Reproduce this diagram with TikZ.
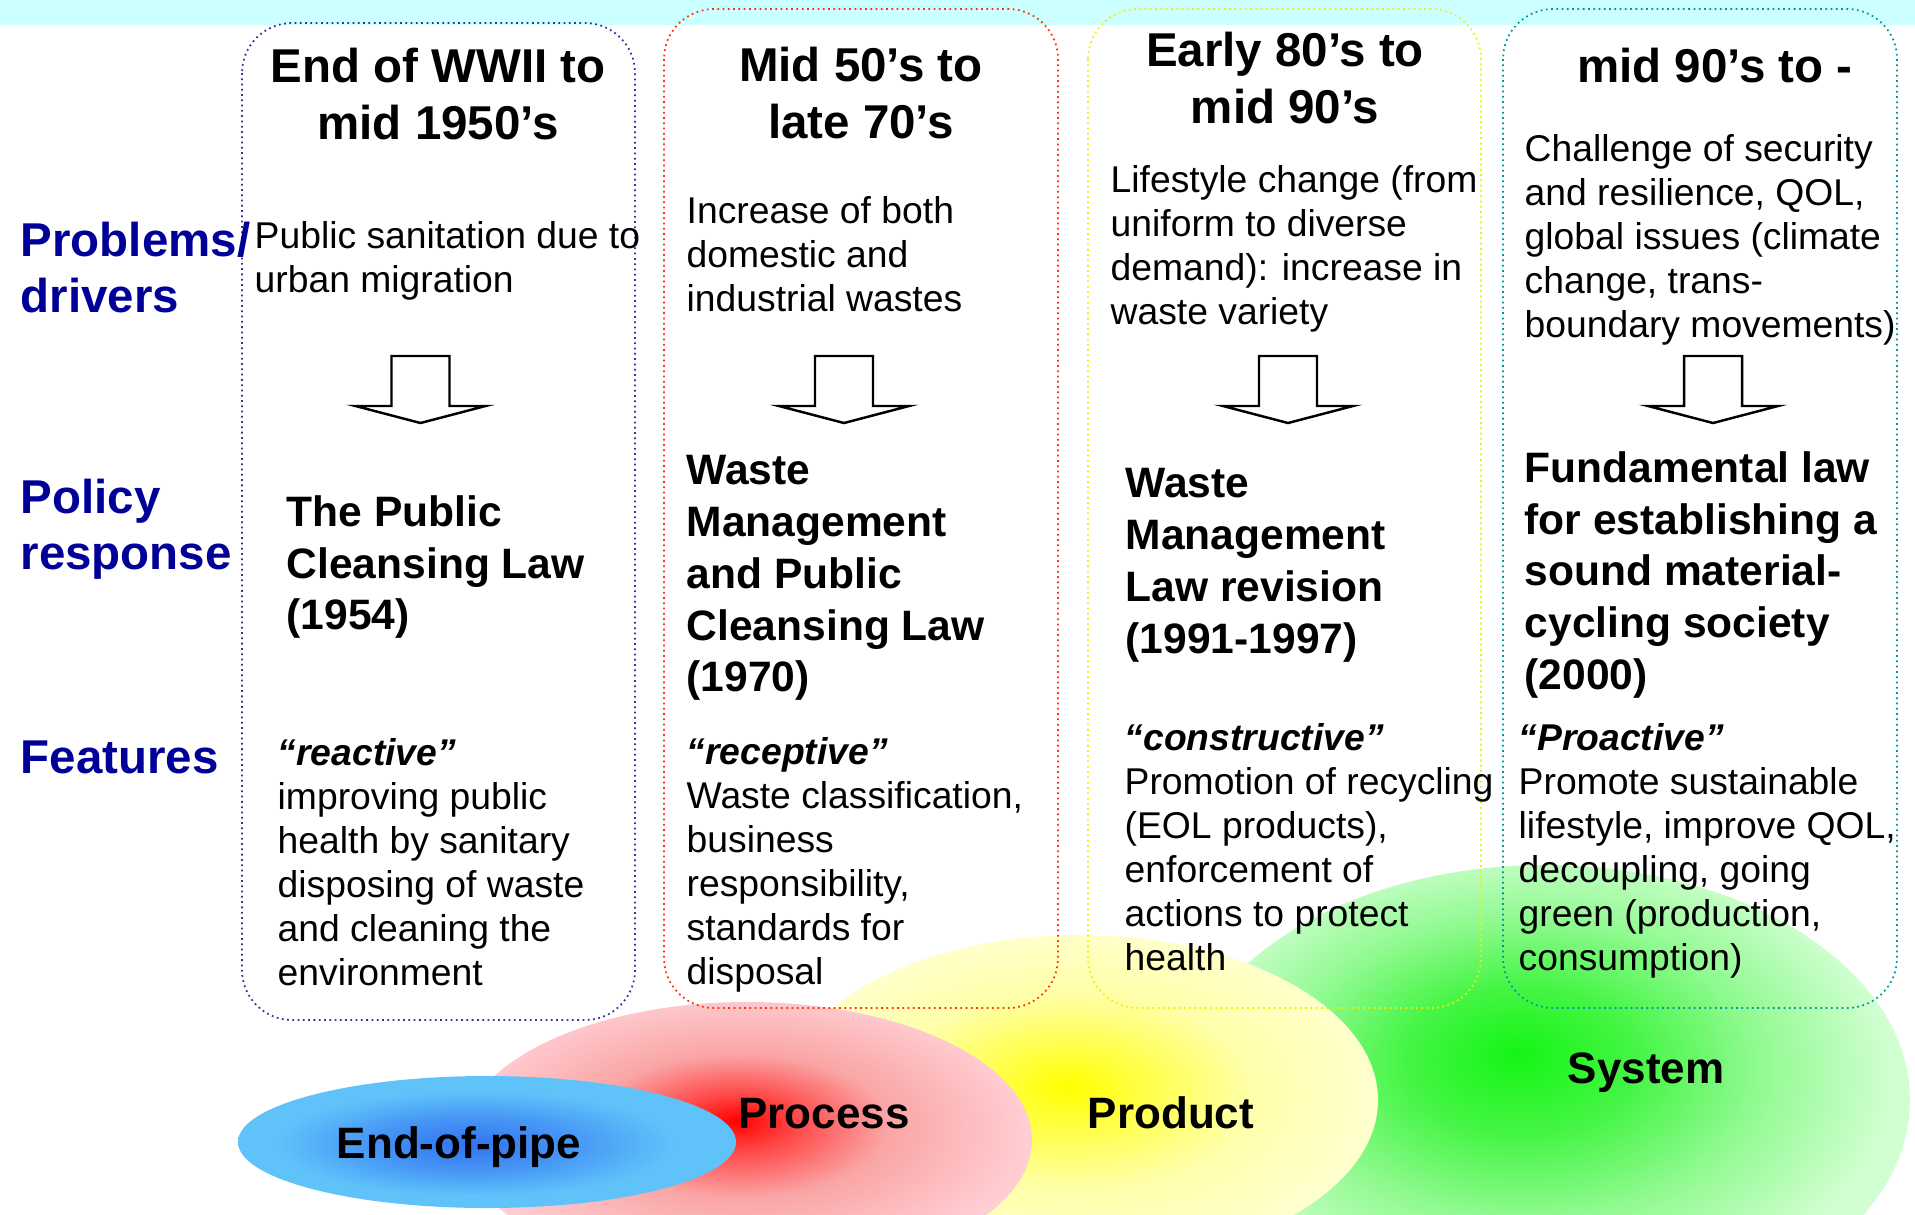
\documentclass[tikz,border=0pt]{standalone}
\usepackage{fontspec}
\setmainfont{Liberation Sans}
\usepackage{tikz}

\definecolor{bandcyan}{RGB}{204,255,255}
\definecolor{labelblue}{RGB}{0,0,153}
\definecolor{boxnavy}{RGB}{51,51,153}
\definecolor{boxred}{RGB}{255,51,0}
\definecolor{boxyellow}{RGB}{240,240,0}
\definecolor{boxteal}{RGB}{0,153,153}
\definecolor{bluecore}{RGB}{50,115,240}
\definecolor{bluemid}{RGB}{70,150,245}
\definecolor{blueedge}{RGB}{95,195,250}
\definecolor{redcore}{RGB}{255,0,0}
\definecolor{redinner}{RGB}{255,70,70}
\definecolor{redmid}{RGB}{250,165,165}
\definecolor{rededge}{RGB}{255,205,210}
\definecolor{yellowcore}{RGB}{255,255,0}
\definecolor{yellowinner}{RGB}{255,255,80}
\definecolor{yellowmid}{RGB}{255,255,170}
\definecolor{yellowedge}{RGB}{255,255,205}
\definecolor{greencore}{RGB}{20,245,20}
\definecolor{greeninner}{RGB}{70,245,70}
\definecolor{greenmid}{RGB}{145,250,145}
\definecolor{greenedge}{RGB}{210,255,210}

\pgfdeclareradialshading{blueglow}{\pgfpoint{-2bp}{-1bp}}{color(0bp)=(bluecore); color(10bp)=(bluemid); color(20bp)=(blueedge); color(50bp)=(blueedge)}
\pgfdeclareradialshading{redglow}{\pgfpoint{-1bp}{3.5bp}}{color(0bp)=(redcore); color(5bp)=(redinner); color(13bp)=(redmid); color(25bp)=(rededge); color(50bp)=(rededge)}
\pgfdeclareradialshading{yellowglow}{\pgfpoint{-1bp}{2bp}}{color(0bp)=(yellowcore); color(7bp)=(yellowinner); color(15bp)=(yellowmid); color(25bp)=(yellowedge); color(50bp)=(yellowedge)}
\pgfdeclareradialshading{greenglow}{\pgfpoint{-2bp}{5bp}}{color(0bp)=(greencore); color(8bp)=(greeninner); color(16bp)=(greenmid); color(25bp)=(greenedge); color(50bp)=(greenedge)}

\begin{document}
\begin{tikzpicture}[x=0.01cm, y=-0.01cm,
    period/.style={font=\fontsize{13.5}{16.2}\selectfont\bfseries, align=center, anchor=north, inner sep=0},
    rowlabel/.style={font=\fontsize{13.5}{16}\selectfont\bfseries, text=labelblue, align=left, anchor=north west, inner sep=0},
    problem/.style={font=\fontsize{10.6}{12.5}\selectfont, align=left, anchor=north west, inner sep=0},
    policy/.style={font=\fontsize{12.1}{14.7}\selectfont\bfseries, align=left, anchor=north west, inner sep=0},
    stage/.style={font=\fontsize{12.5}{14}\selectfont\bfseries, anchor=base, inner sep=0},
    era/.style={densely dotted, line width=0.5pt, rounded corners=0.5cm},
    blockarrow/.style={draw, line width=0.7pt}]
    \useasboundingbox (0,0) rectangle (1915,1214);
    \clip (0,0) rectangle (1915,1214);
    \fill[white] (0,0) rectangle (1915,1214);
    \fill[bandcyan] (0,0) rectangle (1915,25);

    \path[shading=greenglow] (1545,1100) ellipse [x radius=365, y radius=235];
    \path[shading=yellowglow] (1080,1100) ellipse [x radius=298, y radius=165];
    \path[shading=redglow] (747,1140) ellipse [x radius=285, y radius=138];
    \path[shading=blueglow] (487,1142) ellipse [x radius=249, y radius=66];

    \draw[era, draw=boxnavy] (242,23) rectangle (635,1020);
    \draw[era, draw=boxred] (664,9) rectangle (1058,1008);
    \draw[era, draw=boxyellow] (1088,9) rectangle (1481,1008);
    \draw[era, draw=boxteal] (1503,9) rectangle (1897,1008);

    \node[rowlabel] (lblprob) at (20,221) {Problems/\\drivers};
    \node[rowlabel] (lblpol) at (20,478) {Policy\\response};
    \node[rowlabel] (lblfeat) at (20,740) {Features};

    \node[period] (head1) at (438,47) {End of WWII to\\mid 1950’s};
    \node[problem] (prob1) at (254,221) {Public sanitation due to\\urban migration};
    \node[policy] (law1) at (286,495) {The Public\\Cleansing Law\\(1954)};
    \node[problem] (feat1) at (277,738) {{\bfseries\itshape “reactive”}\\improving public\\health by sanitary\\disposing of waste\\and cleaning the\\environment};

    \node[period] (head2) at (861,46) {Mid 50’s to\\late 70’s};
    \node[problem] (prob2) at (686,196) {Increase of both\\domestic and\\industrial wastes};
    \node[policy] (law2) at (686,455) {Waste\\Management\\and Public\\Cleansing Law\\(1970)};
    \node[problem] (feat2) at (686,737) {{\bfseries\itshape “receptive”}\\Waste classification,\\business\\responsibility,\\standards for\\disposal};

    \node[period] (head3) at (1285,31) {Early 80’s to\\mid 90’s};
    \node[problem] (prob3) at (1110,165) {Lifestyle change (from\\uniform to diverse\\demand): increase in\\waste variety};
    \node[policy] (law3) at (1125,468) {Waste\\Management\\Law revision\\(1991-1997)};
    \node[problem] (feat3) at (1124,723) {{\bfseries\itshape “constructive”}\\Promotion of recycling\\(EOL products),\\enforcement of\\actions to protect\\health};

    \node[period] (head4) at (1715,47) {mid 90’s to -};
    \node[problem] (prob4) at (1524,134) {Challenge of security\\and resilience, QOL,\\global issues (climate\\change, trans-\\boundary movements)};
    \node[policy] (law4) at (1524,451) {Fundamental law\\for establishing a\\sound material-\\cycling society\\(2000)};
    \node[problem] (feat4) at (1518,723) {{\bfseries\itshape “Proactive”}\\Promote sustainable\\lifestyle, improve QOL,\\decoupling, going\\green (production,\\consumption)};

    \coordinate (arr1) at (420.5,356);
    \coordinate (arr2) at (844,356);
    \coordinate (arr3) at (1288,356);
    \coordinate (arr4) at (1713,356);
    \draw[blockarrow] (arr1) ++(-29,0) -- ++(58,0) -- ++(0,50) -- ++(36,0) -- ++(-65,17) -- ++(-65,-17) -- ++(36,0) -- cycle;
    \draw[blockarrow] (arr2) ++(-29,0) -- ++(58,0) -- ++(0,50) -- ++(36,0) -- ++(-65,17) -- ++(-65,-17) -- ++(36,0) -- cycle;
    \draw[blockarrow] (arr3) ++(-29,0) -- ++(58,0) -- ++(0,50) -- ++(36,0) -- ++(-65,17) -- ++(-65,-17) -- ++(36,0) -- cycle;
    \draw[blockarrow] (arr4) ++(-29,0) -- ++(58,0) -- ++(0,50) -- ++(36,0) -- ++(-65,17) -- ++(-65,-17) -- ++(36,0) -- cycle;

    \node[stage] (endofpipe) at (459,1158) {End-of-pipe};
    \node[stage] (process) at (824,1128) {Process};
    \node[stage] (product) at (1171,1128) {Product};
    \node[stage] (system) at (1646,1083) {System};
\end{tikzpicture}
\end{document}
